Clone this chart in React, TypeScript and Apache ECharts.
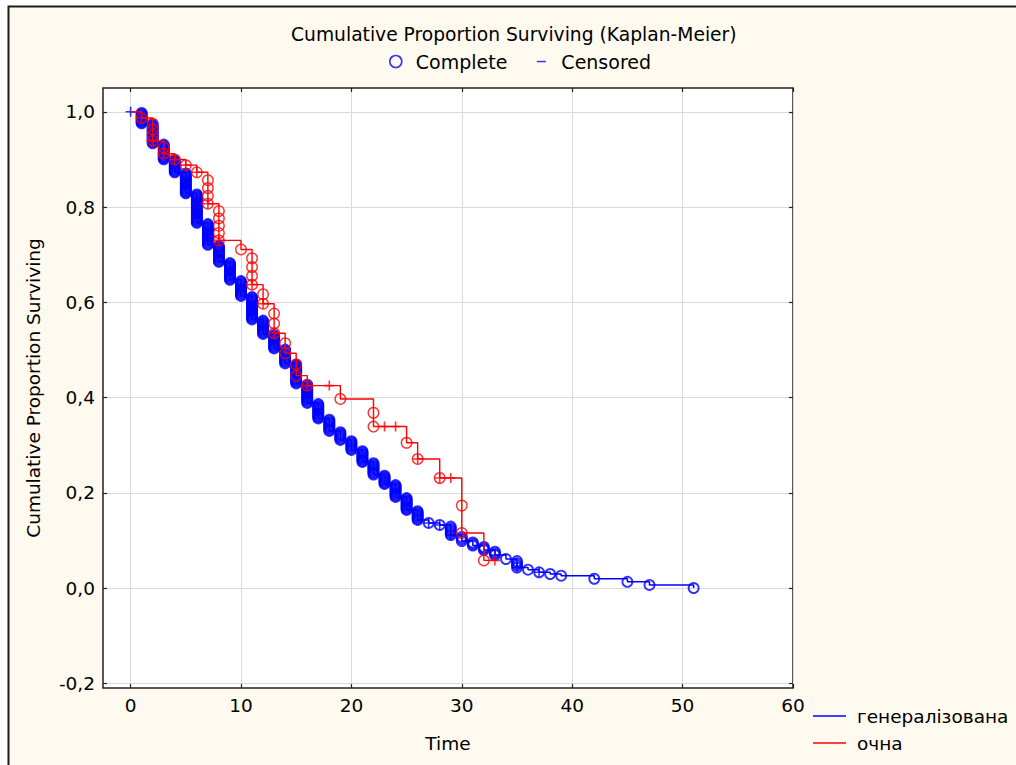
import { useEffect, useRef } from "react";
import * as echarts from "echarts";

const FONT = '"DejaVu Sans", "Liberation Sans", Arial, sans-serif';
const BLUE = "#0000ff";
const RED = "#ff0000";

// Axis tick values
const xTicks = [0, 10, 20, 30, 40, 50, 60];
const yTicks = [-0.2, 0, 0.2, 0.4, 0.6, 0.8, 1.0];

// Group "генералізована": time, survival after that time, deaths, censored
const genTimes = [0, 1, 2, 3, 4, 5, 6, 7, 8, 9, 10, 11, 12, 13, 14, 15, 16, 17, 18, 19, 20, 21, 22, 23, 24, 25, 26, 27, 28, 29, 30, 31, 32, 33, 34, 35, 36, 37, 38, 39, 42, 45, 47, 51];
const genSurvival = [1.0, 0.9758, 0.9338, 0.9002, 0.8729, 0.8288, 0.7668, 0.7206, 0.6849, 0.6471, 0.6134, 0.5641, 0.5336, 0.5032, 0.4716, 0.4296, 0.3887, 0.3561, 0.3298, 0.3109, 0.2899, 0.2647, 0.2384, 0.2185, 0.1912, 0.1639, 0.1429, 0.1366, 0.1324, 0.1113, 0.0987, 0.0893, 0.0798, 0.0693, 0.0609, 0.0431, 0.0385, 0.033, 0.0294, 0.0258, 0.0194, 0.0129, 0.0065, 0.0];
const genDeaths = [0, 10, 17, 13, 11, 18, 25, 18, 14, 15, 13, 20, 12, 12, 12, 17, 16, 13, 10, 7, 8, 10, 10, 8, 11, 11, 8, 1, 1, 6, 3, 3, 3, 3, 1, 4, 1, 1, 1, 1, 1, 1, 1, 1];
const genCensored = [1, 0, 0, 0, 0, 0, 0, 0, 0, 0, 0, 0, 0, 0, 0, 0, 0, 0, 0, 0, 0, 0, 0, 0, 0, 0, 0, 1, 1, 1, 0, 0, 0, 1, 0, 1, 0, 1, 0, 0, 0, 0, 0, 0];

// Group "очна"
const ocTimes = [0, 1, 2, 3, 4, 5, 6, 7, 8, 10, 11, 12, 13, 14, 15, 16, 18, 19, 22, 23, 24, 25, 26, 28, 29, 30, 32, 33];
const ocSurvival = [1.0, 0.987, 0.939, 0.912, 0.9, 0.888, 0.873, 0.807, 0.73, 0.711, 0.637, 0.597, 0.535, 0.493, 0.446, 0.425, 0.425, 0.397, 0.339, 0.339, 0.339, 0.305, 0.271, 0.231, 0.231, 0.1155, 0.058, 0.058];
const ocDeaths = [0, 1, 4, 2, 1, 1, 1, 4, 5, 1, 4, 2, 3, 2, 2, 1, 0, 1, 2, 0, 0, 1, 1, 1, 0, 2, 1, 0];
const ocCensored = [0, 1, 1, 1, 1, 1, 1, 1, 1, 0, 1, 1, 1, 0, 0, 1, 1, 0, 0, 1, 1, 0, 1, 1, 1, 0, 0, 1];

const PLUS = "path://M0,5H10M5,0V10";

function buildGroup(times: number[], surv: number[], deaths: number[], cens: number[]) {
  const line: number[][] = [];
  const complete: number[][] = [];
  const censored: number[][] = [];
  let prev = 1;
  times.forEach((t, i) => {
    const s = surv[i];
    const d = deaths[i];
    // each death in a tied group is marked at its own product-limit step
    for (let k = 1; k <= d; k++) complete.push([t, prev - ((prev - s) * k) / d]);
    if (cens[i] > 0) censored.push([t, s]);
    line.push([t, s]);
    prev = s;
  });
  return { line, complete, censored };
}

const fmt = (v: number) => v.toFixed(1).replace(".", ",");

export default function App() {
  const ref = useRef<HTMLDivElement>(null);

  useEffect(() => {
    if (!ref.current) return;
    const chart = echarts.init(ref.current, undefined, { renderer: "svg" });
    const gen = buildGroup(genTimes, genSurvival, genDeaths, genCensored);
    const oc = buildGroup(ocTimes, ocSurvival, ocDeaths, ocCensored);

    const txt = { fontFamily: FONT, color: "#000", fontSize: 18.5 };
    const tickStyle = { show: true, inside: true, length: 4, lineStyle: { color: "#222", width: 1.2 } };

    chart.setOption({
      animation: false,
      backgroundColor: "#ffffff",
      graphic: [
        {
          type: "rect",
          z: -100,
          silent: true,
          shape: { x: 8.5, y: 6.5, width: 1040, height: 800 },
          style: { fill: "#fffaef", stroke: "#1c1c1c", lineWidth: 2 },
        },
      ],
      title: {
        text: "Cumulative Proportion Surviving (Kaplan-Meier)",
        left: 291,
        top: 25,
        padding: 0,
        textStyle: { ...txt, fontSize: 18.7, fontWeight: "normal" },
      },
      legend: [
        {
          left: 389,
          top: 52,
          padding: 0,
          itemWidth: 30,
          itemHeight: 12,
          itemGap: 19,
          selectedMode: false,
          textStyle: { ...txt, fontSize: 19 },
          data: [
            { name: "Complete", icon: "circle", itemStyle: { color: "transparent", borderColor: BLUE, borderWidth: 1.6 } },
            { name: "Censored", icon: "path://M0,0M30,12M10.5,5.3H19.5V6.8H10.5Z", itemStyle: { color: BLUE, borderWidth: 0 } },
          ],
        },
        {
          left: 813,
          top: 706,
          padding: 0,
          orient: "vertical",
          itemWidth: 33,
          itemHeight: 12,
          itemGap: 7,
          selectedMode: false,
          textStyle: { ...txt, lineHeight: 20, padding: [0, 0, 0, 6] },
          data: [
            { name: "генералізована", icon: "path://M0,0M33,12M0,5.3H33V6.7H0Z", itemStyle: { color: BLUE, borderWidth: 0 } },
            { name: "очна", icon: "path://M0,0M33,12M0,5.3H33V6.7H0Z", itemStyle: { color: RED, borderWidth: 0 } },
          ],
        },
      ],
      grid: {
        left: 103,
        right: 223,
        top: 88,
        bottom: 77,
        show: true,
        backgroundColor: "#ffffff",
        borderColor: "#222",
        borderWidth: 1.5,
        containLabel: false,
        outerBoundsMode: "none",
      },
      xAxis: [
        {
          type: "value",
          min: -2.5,
          max: 60,
          splitNumber: 6,
          axisLine: { show: false, onZero: false },
          axisTick: { ...tickStyle, customValues: xTicks },
          axisLabel: { customValues: xTicks, margin: 8, ...txt },
          splitLine: { show: true, lineStyle: { color: "#dadada", width: 1 } },
          name: "Time",
          nameLocation: "middle",
          nameGap: 46,
          nameTextStyle: txt,
        },
        {
          type: "value",
          position: "top",
          min: -2.5,
          max: 60,
          splitNumber: 6,
          axisLine: { show: false, onZero: false },
          axisTick: { ...tickStyle, customValues: xTicks },
          axisLabel: { show: false },
          splitLine: { show: false },
        },
      ],
      yAxis: [
        {
          type: "value",
          min: -0.21,
          max: 1.05,
          splitNumber: 6,
          axisLine: { show: false, onZero: false },
          axisTick: { ...tickStyle, customValues: yTicks },
          axisLabel: { customValues: yTicks, margin: 8, formatter: fmt, ...txt },
          splitLine: { show: true, lineStyle: { color: "#dadada", width: 1 } },
          name: "Cumulative Proportion Surviving",
          nameLocation: "middle",
          nameGap: 60,
          nameTextStyle: txt,
        },
        {
          type: "value",
          position: "right",
          min: -0.21,
          max: 1.05,
          splitNumber: 6,
          axisLine: { show: false, onZero: false },
          axisTick: { ...tickStyle, customValues: yTicks },
          axisLabel: { show: false },
          splitLine: { show: false },
        },
      ],
      series: [
        {
          name: "генералізована",
          type: "line",
          step: "end",
          symbol: "none",
          silent: true,
          data: gen.line,
          lineStyle: { color: BLUE, width: 1.5 },
          itemStyle: { color: BLUE },
          z: 2,
        },
        {
          name: "Complete",
          type: "scatter",
          symbol: "circle",
          symbolSize: 10,
          silent: true,
          data: gen.complete,
          itemStyle: { color: "transparent", borderColor: BLUE, borderWidth: 1.9 },
          z: 3,
        },
        {
          name: "Censored",
          type: "scatter",
          symbol: PLUS,
          symbolSize: 10,
          silent: true,
          data: gen.censored,
          itemStyle: { color: "transparent", borderColor: BLUE, borderWidth: 1.6 },
          z: 3,
        },
        {
          name: "очна",
          type: "line",
          step: "end",
          symbol: "none",
          silent: true,
          data: oc.line,
          lineStyle: { color: RED, width: 1.4 },
          itemStyle: { color: RED },
          z: 4,
        },
        {
          name: "Complete",
          type: "scatter",
          symbol: "circle",
          symbolSize: 10.5,
          silent: true,
          data: oc.complete,
          itemStyle: { color: "transparent", borderColor: RED, borderWidth: 1.4 },
          z: 5,
        },
        {
          name: "Censored",
          type: "scatter",
          symbol: PLUS,
          symbolSize: 10,
          silent: true,
          data: oc.censored,
          itemStyle: { color: "transparent", borderColor: RED, borderWidth: 1.6 },
          z: 5,
        },
      ],
    });

    return () => chart.dispose();
  }, []);

  return (
    <div
      ref={ref}
      style={{ position: "fixed", left: 0, top: 0, width: 1016, height: 765, background: "#fff" }}
    />
  );
}
